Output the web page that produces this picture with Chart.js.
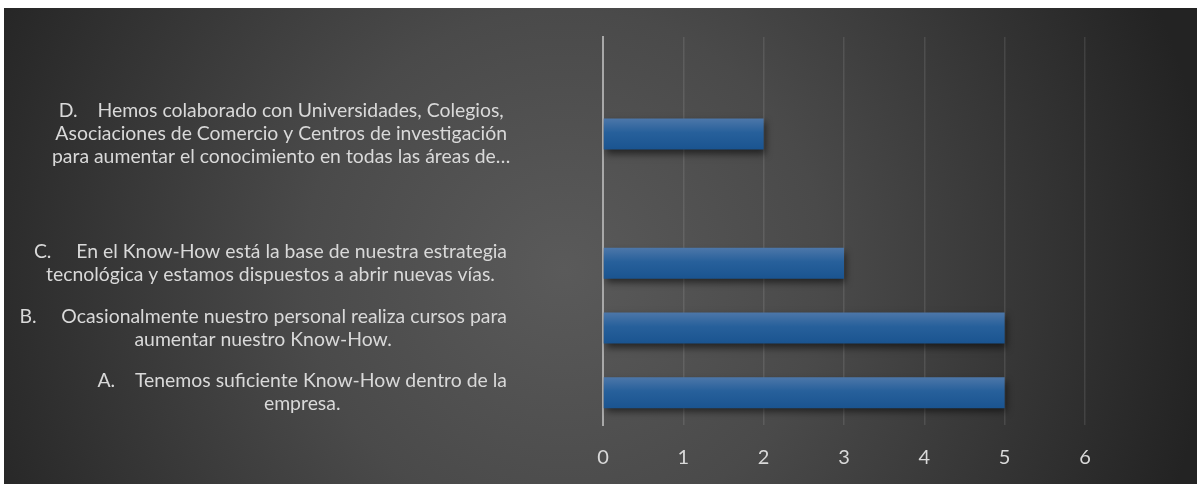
<!DOCTYPE html>
<html>
<head>
<meta charset="utf-8">
<script src="https://cdn.jsdelivr.net/npm/chart.js@4"></script>
<style>
    html, body { margin: 0; padding: 0; background: #ffffff; }
    #frame {
        position: absolute;
        left: 4px;
        top: 8px;
        width: 1193px;
        height: 476px;
        background: radial-gradient(circle 650px at 560px 262px, #5a5a5a 0%, #4a4a4a 40%, #232323 100%);
    }
</style>
</head>
<body>
<div id="frame"><canvas id="chart" width="1193" height="476"></canvas></div>
<script>
// Categories top to bottom; the blank slots are left empty on purpose
const categories = [
    [''],
    ['D.    Hemos colaborado con Universidades, Colegios,',
     'Asociaciones de Comercio y Centros de investigación',
     'para aumentar el conocimiento en todas las áreas de…'],
    [''],
    ['C.     En el Know-How está la base de nuestra estrategia',
     'tecnológica y estamos dispuestos a abrir nuevas vías.'],
    ['B.     Ocasionalmente nuestro personal realiza cursos para',
     'aumentar nuestro Know-How.'],
    ['A.    Tenemos suficiente Know-How dentro de la',
     'empresa.']
];
const answers = [null, 2, null, 3, 5, 5];
const xTicks = [0, 1, 2, 3, 4, 5, 6];

const TEXT = '#d9d9d9';
const FONT = 'Lato';
const BAR_SHARE = 0.48;

// Vertical gradient for each bar, computed from its band on the category axis
function barFill(ctx) {
    const chart = ctx.chart;
    const y = chart.scales.y;
    if (!chart.chartArea || !y) return '#245d98';
    const center = y.getPixelForValue(ctx.dataIndex);
    const half = y.height / categories.length * BAR_SHARE / 2;
    const g = chart.ctx.createLinearGradient(0, center - half, 0, center + half);
    g.addColorStop(0, '#4d77a9');
    g.addColorStop(0.45, '#27609b');
    g.addColorStop(1, '#1a5490');
    return g;
}

// Soft drop shadow under the bars
const barShadow = {
    id: 'barShadow',
    beforeDatasetsDraw(chart) {
        const c = chart.ctx;
        c.save();
        c.shadowColor = 'rgba(0, 0, 0, 0.55)';
        c.shadowBlur = 7;
        c.shadowOffsetX = 2;
        c.shadowOffsetY = 4;
    },
    afterDatasetsDraw(chart) {
        chart.ctx.restore();
    }
};

// Multi-line category labels: each block ends at the same right edge,
// its lines centered on the widest one (a truncated line may overflow)
const categoryLabels = {
    id: 'categoryLabels',
    afterDraw(chart) {
        const c = chart.ctx;
        const y = chart.scales.y;
        const right = 503;
        const lineH = 23;
        c.save();
        c.font = `19.4px ${FONT}`;
        c.fillStyle = TEXT;
        c.textAlign = 'center';
        c.textBaseline = 'middle';
        categories.forEach((lines, i) => {
            const widest = Math.max(...lines.map(l => c.measureText(l.replace(/…$/, '')).width));
            const cx = right - widest / 2;
            const cy = y.getPixelForValue(i);
            const top = cy - (lines.length - 1) * lineH / 2;
            lines.forEach((l, k) => c.fillText(l, cx, top + k * lineH));
        });
        c.restore();
    }
};

new Chart(document.getElementById('chart'), {
    type: 'bar',
    data: {
        labels: categories,
        datasets: [{
            data: answers,
            backgroundColor: barFill,
            borderWidth: 0,
            barPercentage: 1,
            categoryPercentage: BAR_SHARE
        }]
    },
    options: {
        indexAxis: 'y',
        responsive: false,
        animation: false,
        events: [],
        layout: {
            padding: { left: 591, right: 112, top: 29, bottom: 0 }
        },
        plugins: {
            legend: { display: false },
            tooltip: { enabled: false }
        },
        scales: {
            x: {
                min: xTicks[0],
                max: xTicks[xTicks.length - 1],
                afterBuildTicks(scale) {
                    scale.ticks = xTicks.map(v => ({ value: v }));
                },
                afterFit(scale) {
                    scale.height = 59;
                },
                grid: {
                    color: 'rgba(255, 255, 255, 0.1)',
                    lineWidth: 1.5,
                    drawTicks: false,
                    tickLength: 0
                },
                border: { display: false },
                ticks: {
                    color: TEXT,
                    padding: 21,
                    font: { family: FONT, size: 20 }
                }
            },
            y: {
                grid: { display: false },
                border: { display: true, color: '#a8a8a8', width: 2 },
                ticks: { display: false }
            }
        }
    },
    plugins: [barShadow, categoryLabels]
});
</script>
</body>
</html>
